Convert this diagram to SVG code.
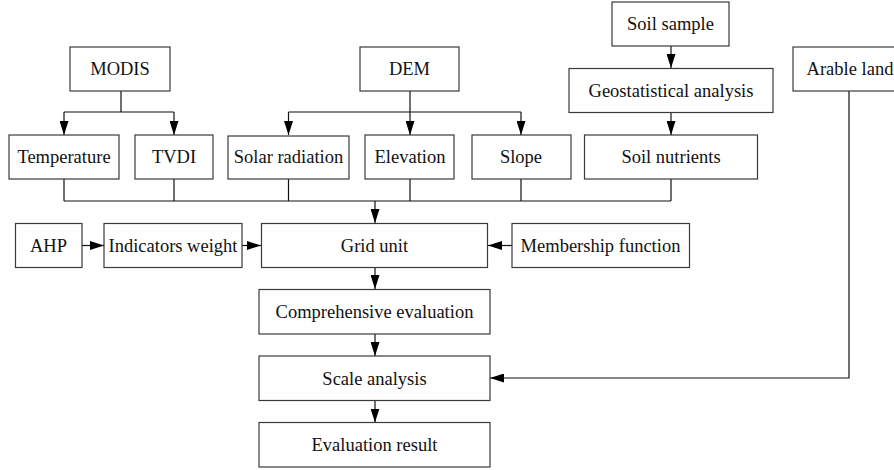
<svg xmlns="http://www.w3.org/2000/svg" width="894" height="470" viewBox="0 0 894 470">
<defs>
<marker id="ah" markerUnits="userSpaceOnUse" markerWidth="14" markerHeight="9" refX="14" refY="4.5" orient="auto">
<path d="M0,0 L14,4.5 L0,9 z" fill="#000"/>
</marker>
</defs>
<style>
.box{fill:#fff;stroke:#3a3a3a;stroke-width:1.2}
.lbl{font-family:"Liberation Serif","Times New Roman",serif;font-size:18.5px;fill:#111;text-anchor:middle}
.ln{fill:none;stroke:#111;stroke-width:1.2}
.ar{fill:none;stroke:#111;stroke-width:1.2;marker-end:url(#ah)}
</style>
<rect width="894" height="470" fill="#fff"/>
<g id="connectors">
<path class="ln" d="M121,91 V112 M64,112 H174"/>
<path class="ar" d="M64,112 V135"/>
<path class="ar" d="M174,112 V135"/>
<path class="ln" d="M288.5,112 H521"/>
<path class="ar" d="M410,91 V135"/>
<path class="ar" d="M288.5,112 V135"/>
<path class="ar" d="M521,112 V135"/>
<path class="ar" d="M671,46 V68"/>
<path class="ar" d="M671,113 V135"/>
<path class="ln" d="M64,179 V201 M174,179 V201 M288.5,179 V201 M410,179 V201 M521,179 V201 M671,179 V201 M64,201 H671"/>
<path class="ar" d="M375,201 V223"/>
<path class="ar" d="M82,245.5 H104"/>
<path class="ar" d="M242,245.5 H261"/>
<path class="ar" d="M512,245.5 H488"/>
<path class="ar" d="M375,268 V289"/>
<path class="ar" d="M375,334 V356"/>
<path class="ar" d="M375,400 V422.5"/>
<path class="ar" d="M849,91 V378 H490"/>
</g>
<g id="modis"><rect class="box" x="70" y="47" width="100" height="44"/><text class="lbl" x="120" y="75">MODIS</text></g>
<g id="dem"><rect class="box" x="360" y="47" width="99" height="44"/><text class="lbl" x="409.5" y="75">DEM</text></g>
<g id="soil-sample"><rect class="box" x="612" y="2" width="117" height="44"/><text class="lbl" x="670.5" y="30">Soil sample</text></g>
<g id="geostatistical"><rect class="box" x="569" y="68.5" width="204" height="44"/><text class="lbl" x="671" y="96.5">Geostatistical analysis</text></g>
<g id="arable-land"><rect class="box" x="793" y="47" width="130" height="44"/><text class="lbl" x="850" y="75">Arable land</text></g>
<g id="temperature"><rect class="box" x="9" y="135" width="110" height="44"/><text class="lbl" x="64" y="163">Temperature</text></g>
<g id="tvdi"><rect class="box" x="135" y="135" width="78" height="44"/><text class="lbl" x="174" y="163">TVDI</text></g>
<g id="solar"><rect class="box" x="228" y="136" width="121" height="43"/><text class="lbl" x="288.5" y="163">Solar radiation</text></g>
<g id="elevation"><rect class="box" x="365" y="135" width="89" height="44"/><text class="lbl" x="410" y="163">Elevation</text></g>
<g id="slope"><rect class="box" x="472" y="135" width="99" height="44"/><text class="lbl" x="521" y="163">Slope</text></g>
<g id="soil-nutrients"><rect class="box" x="584.5" y="135" width="173" height="44"/><text class="lbl" x="671" y="163">Soil nutrients</text></g>
<g id="ahp"><rect class="box" x="15.5" y="223.5" width="66.5" height="44"/><text class="lbl" x="48.5" y="251.5">AHP</text></g>
<g id="indicators"><rect class="box" x="104" y="223.5" width="138" height="44"/><text class="lbl" x="173" y="251.5">Indicators weight</text></g>
<g id="grid-unit"><rect class="box" x="261.5" y="223.5" width="226" height="44"/><text class="lbl" x="374.5" y="251.5">Grid unit</text></g>
<g id="membership"><rect class="box" x="512" y="223.5" width="177.5" height="44"/><text class="lbl" x="600.5" y="251.5">Membership function</text></g>
<g id="comprehensive"><rect class="box" x="259" y="289.5" width="231" height="44.5"/><text class="lbl" x="374.5" y="318">Comprehensive evaluation</text></g>
<g id="scale"><rect class="box" x="259" y="356" width="231" height="44.5"/><text class="lbl" x="374.5" y="384.5">Scale analysis</text></g>
<g id="result"><rect class="box" x="259" y="422.5" width="231" height="44.5"/><text class="lbl" x="374.5" y="451">Evaluation result</text></g>
</svg>
